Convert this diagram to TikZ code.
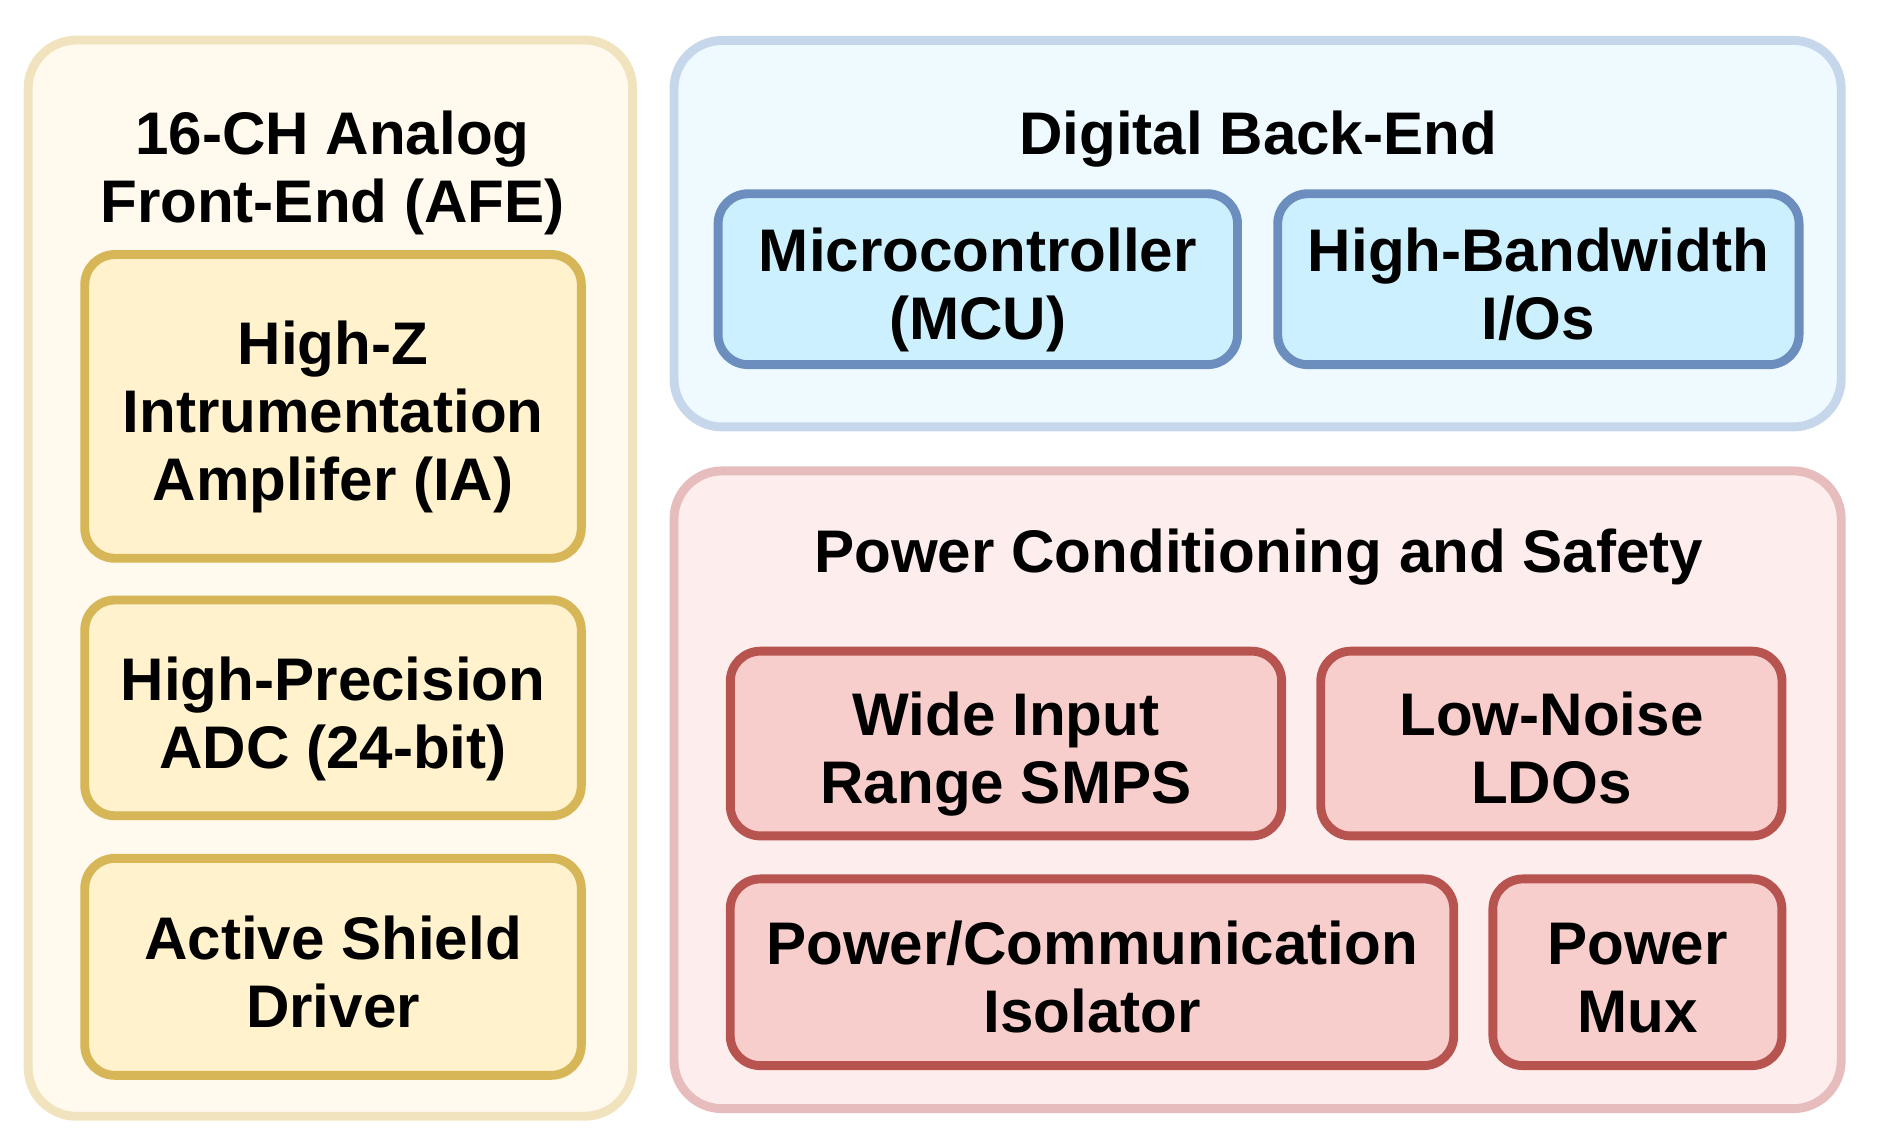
\documentclass[tikz,border=0pt]{standalone}
\usepackage{fontspec}
\setmainfont{Liberation Sans}
\usepackage{tikz}

\definecolor{afeFill}{HTML}{FFF9EE}
\definecolor{afeLine}{HTML}{F0E3BD}
\definecolor{yelFill}{HTML}{FFF2CC}
\definecolor{yelLine}{HTML}{D6B656}
\definecolor{dbeFill}{HTML}{EEFAFF}
\definecolor{dbeLine}{HTML}{C6D6EB}
\definecolor{bluFill}{HTML}{CDF0FE}
\definecolor{bluLine}{HTML}{6C8EBF}
\definecolor{pwrFill}{HTML}{FDEDED}
\definecolor{pwrLine}{HTML}{E6BCBC}
\definecolor{redFill}{HTML}{F8CECC}
\definecolor{redLine}{HTML}{B85450}

% struts for first and last line, so that all labels sit alike
\newcommand{\topstrut}{\rule{0pt}{16.44pt}}
\newcommand{\botstrut}{\rule[-4pt]{0pt}{4pt}}

\begin{document}
\begin{tikzpicture}[x=0.01cm, y=-0.01cm,
		labeltext/.style={font=\bfseries\fontsize{14.2pt}{16.1pt}\selectfont, align=flush center, inner sep=0pt,
			execute at begin node=\topstrut, execute at end node=\botstrut},
		title/.style={labeltext, text width=#1},
		group/.style 2 args={draw=#1, fill=#2, line width=2.1pt, rounded corners=0.4cm, inner sep=0pt},
		block/.style n args={4}{labeltext, draw=#1, fill=#2, text width=#3, minimum height=#4,
			line width=2.1pt, rounded corners=0.25cm}]
			% Page size
			\useasboundingbox (0,0) rectangle (1560,945);
			
			% Analog front-end
			\node[group={afeLine}{afeFill}, minimum width=5.015cm, minimum height=8.93cm] (afe) at (274.3,480) {};
			\node[title=4.5cm] (afetitle) at (276,134.9) {16-CH Analog\\Front-End (AFE)};
			\node[block={yelLine}{yelFill}{4.12cm}{2.52cm}] (hiz) at (276.5,337.4) {High-Z\\Intrumentation\\Amplifer (IA)};
			\node[block={yelLine}{yelFill}{4.12cm}{1.79cm}] (adc) at (276.5,587.7) {High-Precision\\ADC (24-bit)};
			\node[block={yelLine}{yelFill}{4.12cm}{1.80cm}] (shield) at (276.5,802.7) {Active Shield\\Driver};
			
			% Digital back-end
			\node[group={dbeLine}{dbeFill}, minimum width=9.685cm, minimum height=3.207cm] (dbe) at (1044.1,194) {};
			\node[title=5cm] (dbetitle) at (1044.5,106.6) {Digital Back-End};
			\node[block={bluLine}{bluFill}{4.31cm}{1.418cm}] (mcu) at (811.8,231.8) {Microcontroller\\(MCU)};
			\node[block={bluLine}{bluFill}{4.326cm}{1.418cm}] (hbio) at (1277.2,231.8) {High-Bandwidth\\I/Os};
			
			% Power conditioning
			\node[group={pwrLine}{pwrFill}, minimum width=9.685cm, minimum height=5.292cm] (pwr) at (1044.1,655.7) {};
			\node[title=8cm] (pwrtitle) at (1045,453.2) {Power Conditioning and Safety};
			\node[block={redLine}{redFill}{4.575cm}{1.533cm}] (smps) at (835.2,617.3) {Wide Input\\Range SMPS};
			\node[block={redLine}{redFill}{3.827cm}{1.533cm}] (ldo) at (1288,617.3) {Low-Noise\\LDOs};
			\node[block={redLine}{redFill}{6.004cm}{1.549cm}] (iso) at (906.6,807.2) {Power/Communication\\Isolator};
			\node[block={redLine}{redFill}{2.398cm}{1.549cm}] (mux) at (1359.4,807.2) {Power\\Mux};
			
		\end{tikzpicture}
\end{document}
